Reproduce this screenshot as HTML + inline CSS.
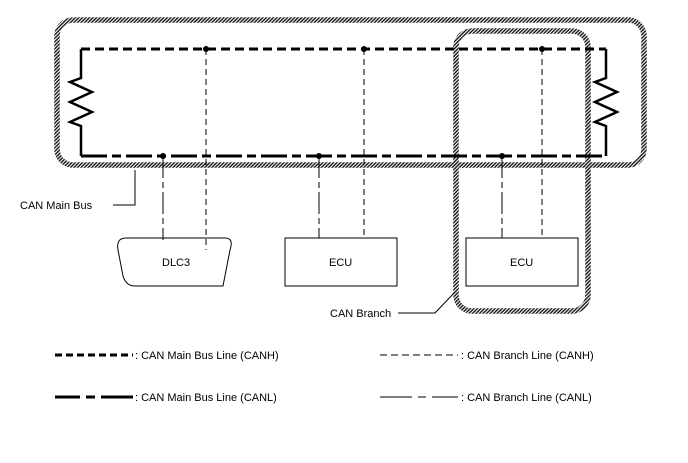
<!DOCTYPE html>
<html><head><style>body{margin:0;background:#fff}svg{display:block}text{font-family:"Liberation Sans",sans-serif;font-size:11px;fill:#000}</style></head><body>
<svg width="688" height="463" viewBox="0 0 688 463" xmlns="http://www.w3.org/2000/svg">
<defs><pattern id="h" width="2.5" height="2.5" patternUnits="userSpaceOnUse" patternTransform="rotate(45)"><rect width="2.5" height="2.5" fill="#fff"/><rect width="1.5" height="2.5" fill="#222"/></pattern></defs>
<rect x="57" y="20" width="587" height="145" rx="16" fill="none" stroke="url(#h)" stroke-width="5.5"/>
<rect x="456" y="31" width="132" height="280" rx="16" fill="none" stroke="url(#h)" stroke-width="5.5"/>
<g stroke="#000" fill="none">
<line x1="81" y1="49" x2="606" y2="49" stroke-width="3" stroke-dasharray="9,5"/>
<line x1="81" y1="156" x2="606" y2="156" stroke-width="3" stroke-dasharray="26,5,9,5"/>
<polyline points="81,49 81,78 70,82 92,92 70,102 92,112 70,122 81,126 81,156" stroke-width="2.5"/>
<polyline points="606,49 606,78 595,82 617,92 595,102 617,112 595,122 606,126 606,156" stroke-width="2.5"/>
<g stroke-width="1" stroke-dasharray="6,4">
<line x1="206" y1="49" x2="206" y2="250"/><line x1="364" y1="49" x2="364" y2="238"/><line x1="542" y1="49" x2="542" y2="238"/></g>
<g stroke-width="1" stroke-dasharray="22,4,6,4">
<line x1="163" y1="156" x2="163" y2="240"/><line x1="319" y1="156" x2="319" y2="238"/><line x1="502" y1="156" x2="502" y2="238"/></g>
<path d="M126,238 H225 Q234,238 230,250 L223,286 H135 Q126,286 123,276 L118,250 Q116,238 126,238 Z" stroke-width="1"/>
<rect x="285" y="238" width="112" height="48" stroke-width="1"/>
<rect x="466" y="238" width="112" height="48" stroke-width="1"/>
<polyline points="113,205 135,205 135,170" stroke-width="1"/>
<polyline points="398,313 435,313 455,292" stroke-width="1"/>
<line x1="55" y1="355" x2="133" y2="355" stroke-width="3" stroke-dasharray="7,4"/>
<path d="M55,397 H80 M86,397 H95 M101,397 H133" stroke-width="3"/>
<line x1="380" y1="355" x2="458" y2="355" stroke-width="1" stroke-dasharray="7,4"/>
<path d="M380,397 H412 M418,397 H426 M432,397 H458" stroke-width="1"/>
</g>
<g fill="#000"><circle cx="206" cy="49" r="3"/><circle cx="364" cy="49" r="3"/><circle cx="542" cy="49" r="3"/><circle cx="163" cy="156" r="3"/><circle cx="319" cy="156" r="3"/><circle cx="502" cy="156" r="3"/></g>
<text x="162" y="266">DLC3</text><text x="329" y="266">ECU</text><text x="510" y="266">ECU</text>
<text x="20" y="209">CAN Main Bus</text><text x="330" y="317">CAN Branch</text>
<text x="135" y="359">: CAN Main Bus Line (CANH)</text>
<text x="135" y="401">: CAN Main Bus Line (CANL)</text>
<text x="461" y="359">: CAN Branch Line (CANH)</text>
<text x="461" y="401">: CAN Branch Line (CANL)</text>
</svg></body></html>
